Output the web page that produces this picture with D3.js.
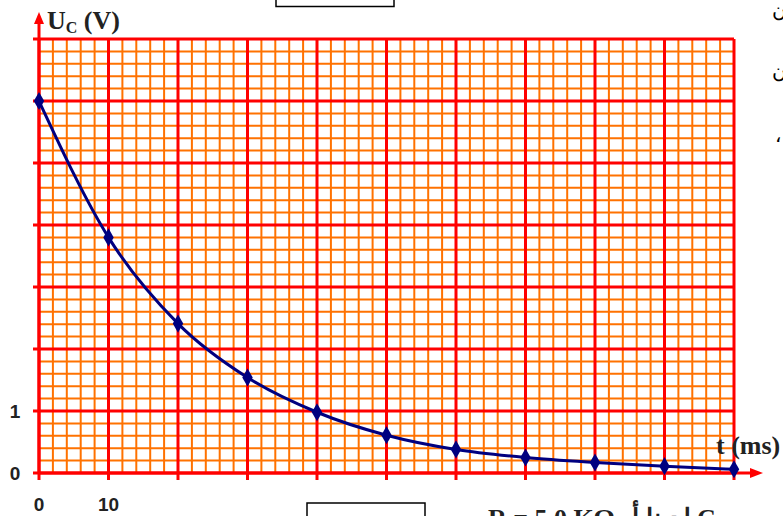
<!DOCTYPE html>
<meta charset="utf-8">
<style>
body { margin: 0; background: #fff; }
.minor { stroke: #ff7200; stroke-width: 2; }
.major { stroke: #ff0000; stroke-width: 3; }
.curve { fill: none; stroke: #000080; stroke-width: 3; }
.dot { fill: #000080; }
.tick { font-family: Arial, "Liberation Sans", sans-serif; font-weight: bold; font-size: 19px; fill: #222; }
.lab { font-family: "Liberation Serif", "Times New Roman", serif; font-weight: bold; font-size: 26px; fill: #222; }
.side { font-family: "DejaVu Serif", serif; font-size: 20px; fill: #000; }
</style>
<body>
<div id="chart"></div>
<script src="https://d3js.org/d3.v7.min.js"></script>
<script>
// data
var times = [0, 10, 20, 30, 40, 50, 60, 70, 80, 90, 100];   // t (ms)
var uc = [6.0, 3.80, 2.41, 1.54, 0.98, 0.61, 0.38, 0.25, 0.17, 0.11, 0.06]; // U_C (V)
var xLabels = [0, 10];
var yLabels = [0, 1];

var width = 783, height = 516;

var x = d3.scaleLinear().domain([0, 100]).range([39, 734]);
var y = d3.scaleLinear().domain([0, 7]).range([473, 39]);

var svg = d3.select("#chart").append("svg")
    .attr("width", width)
    .attr("height", height);

// minor grid (every 2 ms / 0.2 V)
var g = svg.append("g");
d3.range(0, 100.001, 2).forEach(function(t) {
  if (t % 10 === 0) return;
  g.append("line").attr("class", "minor")
    .attr("x1", x(t)).attr("x2", x(t)).attr("y1", y(7)).attr("y2", y(0));
});
d3.range(0, 7.001, 0.2).forEach(function(v) {
  if (Math.abs(v - Math.round(v)) < 1e-6) return;
  g.append("line").attr("class", "minor")
    .attr("x1", x(0)).attr("x2", x(100)).attr("y1", y(v)).attr("y2", y(v));
});

// major grid, with small ticks sticking out of the axes
x.ticks(10).forEach(function(t) {
  g.append("line").attr("class", "major")
    .attr("x1", x(t)).attr("x2", x(t)).attr("y1", y(7)).attr("y2", y(0) + 7);
});
y.ticks(7).forEach(function(v) {
  g.append("line").attr("class", "major")
    .attr("x1", x(0) - 6).attr("x2", x(100)).attr("y1", y(v)).attr("y2", y(v));
});

// axes arrows
svg.append("line").attr("class", "major")
  .attr("x1", x(0)).attr("x2", x(0)).attr("y1", y(0)).attr("y2", 22);
svg.append("path").attr("fill", "#ff0000")
  .attr("d", "M" + x(0) + ",12 L" + (x(0) - 5) + ",24 L" + (x(0) + 5) + ",24 Z");
svg.append("line").attr("class", "major")
  .attr("x1", x(0)).attr("x2", 752).attr("y1", y(0)).attr("y2", y(0));
svg.append("path").attr("fill", "#ff0000")
  .attr("d", "M763," + y(0) + " L750," + (y(0) - 5) + " L750," + (y(0) + 5) + " Z");

// curve and points
var line = d3.line()
  .x(function(d, i) { return x(times[i]); })
  .y(function(d) { return y(d); })
  .curve(d3.curveMonotoneX);

svg.append("path").datum(uc).attr("class", "curve").attr("d", line);

svg.selectAll(".dot").data(uc).enter().append("path")
  .attr("class", "dot")
  .attr("transform", function(d, i) { return "translate(" + x(times[i]) + "," + y(d) + ")"; })
  .attr("d", d3.symbol().type(d3.symbolDiamond).size(95));

// tick labels
svg.selectAll(".xl").data(xLabels).enter().append("text")
  .attr("class", "tick").attr("text-anchor", "middle")
  .attr("x", function(d) { return x(d); }).attr("y", 511)
  .text(function(d) { return d; });
svg.selectAll(".yl").data(yLabels).enter().append("text")
  .attr("class", "tick").attr("text-anchor", "middle")
  .attr("x", 15).attr("y", function(d) { return y(d) + 7; })
  .text(function(d) { return d; });

// axis titles
var ut = svg.append("text").attr("class", "lab").attr("x", 47).attr("y", 29);
ut.append("tspan").text("U");
ut.append("tspan").attr("font-size", "16px").attr("dy", 4).text("C");
ut.append("tspan").attr("dy", -4).text(" (V)");
svg.append("text").attr("class", "lab").attr("x", 716).attr("y", 454).text("t (ms)");

// page fragments around the figure
svg.append("rect").attr("x", 276).attr("y", -4).attr("width", 118).attr("height", 10.5)
  .attr("fill", "none").attr("stroke", "#000").attr("stroke-width", 1.5);
svg.append("rect").attr("x", 307).attr("y", 503).attr("width", 118).attr("height", 20)
  .attr("fill", "none").attr("stroke", "#000").attr("stroke-width", 1.5);
svg.append("text").attr("class", "lab").attr("x", 488).attr("y", 527).attr("font-size", "20px")
  .text("R = 5.0 KΩ");
svg.append("text").attr("class", "lab").attr("x", 632).attr("y", 527).attr("font-size", "20px")
  .attr("font-weight", "normal").text("لدينا أ C");
svg.append("text").attr("class", "side").attr("x", 772).attr("y", 17).text("ن");
svg.append("text").attr("class", "side").attr("x", 772).attr("y", 78).text("ن");
svg.append("text").attr("class", "side").attr("x", 775).attr("y", 142).text("،");
</script>
</body>
